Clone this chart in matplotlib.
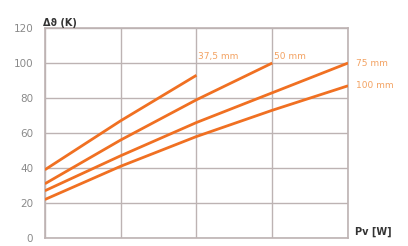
import matplotlib.pyplot as plt

# Data (x in grid divisions, no labels on x axis)
x_375 = [0, 1, 2]
y_375 = [39, 67, 93]
x_50 = [0, 1, 2, 3]
y_50 = [31, 56, 79, 100]
x_75 = [0, 1, 2, 3, 4]
y_75 = [27, 47, 66, 83, 100]
x_100 = [0, 1, 2, 3, 4]
y_100 = [22, 41, 58, 73, 87]
series_labels = ["37,5 mm", "50 mm", "75 mm", "100 mm"]
y_ticks = [0, 20, 40, 60, 80, 100, 120]

line_color = "#f07022"
label_color = "#f3a262"
grid_color = "#bdb3b3"
tick_color = "#8a8a8a"

fig = plt.figure(figsize=(4.08, 2.46), dpi=100)
ax = fig.add_axes([0.110, 0.0325, 0.743, 0.8535])

for xs, ys in [(x_375, y_375), (x_50, y_50), (x_75, y_75), (x_100, y_100)]:
    ax.plot(xs, ys, color=line_color, lw=2, solid_capstyle="butt", zorder=3)

ax.set_xlim(0, 4)
ax.set_ylim(0, 120)
ax.set_yticks(y_ticks)
ax.set_xticks([0, 1, 2, 3, 4])
ax.set_xticklabels([])
ax.tick_params(axis="both", length=0, labelsize=7.5, labelcolor=tick_color, pad=8.5)
ax.grid(True, color=grid_color, lw=1)
for s in ax.spines.values():
    s.set_color(grid_color)
    s.set_linewidth(1.2)

# series labels
ax.text(x_375[-1] + 0.02, 101, series_labels[0], color=label_color, fontsize=6.5, va="bottom", ha="left")
ax.text(x_50[-1] + 0.02, 101, series_labels[1], color=label_color, fontsize=6.5, va="bottom", ha="left")
ax.text(4.1, y_75[-1], series_labels[2], color=label_color, fontsize=6.5, va="center", ha="left", clip_on=False)
ax.text(4.1, y_100[-1], series_labels[3], color=label_color, fontsize=6.5, va="center", ha="left", clip_on=False)

# axis titles
fig.text(0.105, 0.905, "Δϑ (K)", fontsize=7, fontweight="bold", color="#333333", ha="left", va="center")
fig.text(0.870, 0.057, "Pv [W]", fontsize=7, fontweight="bold", color="#333333", ha="left", va="center")

fig.savefig("out.png", dpi=100)
